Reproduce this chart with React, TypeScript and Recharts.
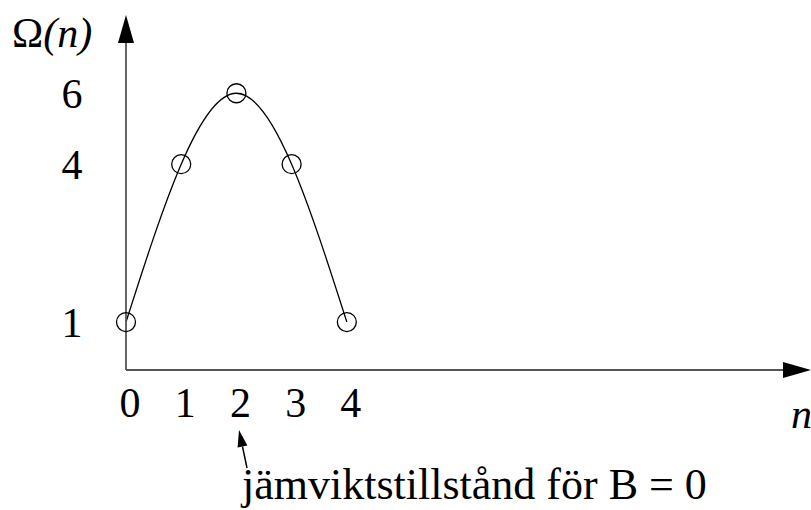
import React from 'react';
import { LineChart, Line, XAxis, YAxis } from 'recharts';

// ---- data ----
const nValues = [0, 1, 2, 3, 4];
const omegaValues = [1, 4, 6, 4, 1];
const xTicks = [0, 1, 2, 3, 4];
const yTicks = [1, 4, 6];
const yTitleMain = 'Ω';
const yTitleArg = '(n)';
const xTitle = 'n';
const noteText = 'jämviktstillstånd för B = 0';

const data = nValues.map((n, i) => ({ n, omega: omegaValues[i] }));

const FONT = '"Liberation Serif", "Times New Roman", Times, serif';
const W = 811;
const H = 510;

const XTick = (props: any) => {
  const { x, y, payload } = props;
  return (
    <text x={x + 4} y={y + 47} textAnchor="middle" fontFamily={FONT} fontSize={42} fill="#000">
      {payload.value}
    </text>
  );
};

const YTick = (props: any) => {
  const { x, y, payload } = props;
  return (
    <text x={x - 54} y={y + 15} textAnchor="middle" fontFamily={FONT} fontSize={42} fill="#000">
      {payload.value}
    </text>
  );
};

export default function App() {
  return (
    <div style={{ position: 'absolute', left: 0, top: 0, width: W, height: H, background: '#fff' }}>
      <svg width={0} height={0} style={{ position: 'absolute' }}>
        <defs>
          <marker
            id="axisArrow"
            markerUnits="userSpaceOnUse"
            markerWidth={28}
            markerHeight={16}
            refX={0}
            refY={8}
            orient="auto-start-reverse"
          >
            <path d="M0,0 L28,8 L0,16 z" fill="#000" />
          </marker>
        </defs>
      </svg>
      <LineChart
        width={W}
        height={H}
        data={data}
        margin={{ top: 43, right: 28, bottom: 110, left: 66 }}
      >
        <XAxis
          dataKey="n"
          type="number"
          domain={[0, 11.9]}
          ticks={xTicks}
          tickLine={false}
          tickSize={0}
          tickMargin={0}
          height={30}
          axisLine={{ stroke: '#555', strokeWidth: 1.8, markerEnd: 'url(#axisArrow)' }}
          tick={<XTick />}
        />
        <YAxis
          dataKey="omega"
          type="number"
          scale="sqrt"
          domain={[0.485, 7.66]}
          ticks={yTicks}
          tickLine={false}
          tickSize={0}
          tickMargin={0}
          width={60}
          axisLine={{ stroke: '#555', strokeWidth: 1.8, markerStart: 'url(#axisArrow)' }}
          tick={<YTick />}
        />
        <Line
          dataKey="omega"
          type="natural"
          stroke="#000"
          strokeWidth={1.3}
          dot={{ r: 9.5, fill: 'none', stroke: '#000', strokeWidth: 1.3 }}
          activeDot={false}
          isAnimationActive={false}
        />
      </LineChart>
      <svg
        width={W}
        height={H}
        style={{ position: 'absolute', left: 0, top: 0, pointerEvents: 'none' }}
      >
        <text x={12} y={47} fontFamily={FONT} fontSize={42} fill="#000">
          {yTitleMain}
          <tspan fontStyle="italic">{yTitleArg}</tspan>
        </text>
        <text x={791} y={428} fontFamily={FONT} fontSize={42} fontStyle="italic" fill="#000">
          {xTitle}
        </text>
        <line x1={247} y1={468} x2={242.5} y2={446.6} stroke="#000" strokeWidth={1.5} />
        <polygon points="239,430 247.4,445.6 237.6,447.6" fill="#000" />
        <text x={242} y={499} fontFamily={FONT} fontSize={44} fill="#000">
          {noteText}
        </text>
      </svg>
    </div>
  );
}
